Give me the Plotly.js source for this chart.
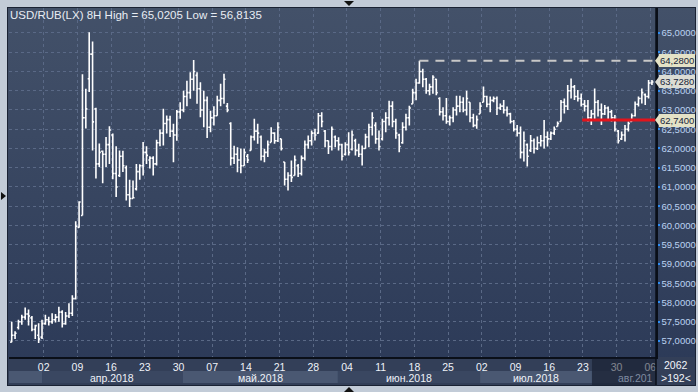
<!DOCTYPE html>
<html><head><meta charset="utf-8">
<script src="https://cdn.plot.ly/plotly-3.0.1.min.js"></script>
<style>
html,body{margin:0;padding:0;width:698px;height:392px;overflow:hidden;background:#c2cbd7;}
#frame{position:absolute;left:8px;top:8px;width:687px;height:377px;background:linear-gradient(#435169,#2b3957);box-shadow:0 0 0 1px #1a2233;}
#xarea{position:absolute;left:8px;top:357px;width:687px;height:28px;background:#333f58;}
#chart{position:absolute;left:0;top:0;width:698px;height:392px;}
.tri{position:absolute;width:0;height:0;}
</style></head>
<body>
<div id="frame"></div>
<div id="xarea"></div>
<div class="tri" style="left:344px;top:1px;border-left:5px solid transparent;border-right:5px solid transparent;border-top:5px solid #111;"></div>
<div class="tri" style="left:344px;top:387px;border-left:5px solid transparent;border-right:5px solid transparent;border-bottom:5px solid #111;"></div>
<div class="tri" style="left:1px;top:192px;border-top:4px solid transparent;border-bottom:4px solid transparent;border-left:5px solid #111;"></div>
<div id="chart"></div>
<script>
const chartTitle = 'USD/RUB(LX) 8H High = 65,0205 Low = 56,8135';

const open = [
56.97,57.15,57.35,57.50,57.62,57.70,57.60,57.30,57.15,57.10,
57.45,57.55,57.50,57.55,57.62,57.75,57.45,57.65,57.72,58.10,
59.95,60.26,62.80,63.81,64.45,63.03,61.60,61.93,61.85,62.10,
62.35,61.35,61.30,61.80,61.50,60.80,60.70,60.95,61.40,61.55,
61.90,61.70,61.75,61.60,62.15,62.40,62.65,62.75,62.45,62.35,
62.95,63.00,63.35,63.45,63.80,63.90,63.55,63.00,63.25,62.55,
62.80,62.85,63.25,63.30,63.10,62.65,61.75,61.85,61.70,61.55,
61.80,61.95,62.30,62.45,62.30,61.80,61.90,62.16,62.40,62.20,
62.25,61.65,61.20,61.30,61.30,61.55,61.35,61.75,62.10,62.20,
62.40,62.40,62.85,62.45,62.20,62.05,62.30,62.20,62.10,61.85,
62.10,61.98,62.20,61.95,61.85,62.00,62.30,62.55,62.60,62.25,
62.25,62.70,62.80,63.10,62.70,62.35,62.15,62.55,62.80,63.16,
63.45,63.70,64.00,63.80,63.50,63.60,63.80,63.30,62.95,62.85,
62.70,62.80,63.00,63.10,63.20,63.00,63.20,62.80,62.60,62.90,
63.20,63.35,63.15,63.25,63.30,63.05,63.10,63.00,62.90,62.70,
62.50,62.40,61.90,62.10,61.95,62.20,62.00,62.15,62.20,62.30,
62.25,62.40,62.57,62.70,63.20,63.10,63.50,63.60,63.35,63.30,
63.15,63.10,62.80,62.90,63.20,63.00,62.90,63.05,62.95,62.80,
62.45,62.25,62.35,62.50,62.70,62.85,63.15,63.30,63.40,63.35,63.70];

const high = [
57.50,57.25,57.55,57.68,57.87,57.82,57.65,57.42,57.46,57.55,
57.68,57.63,57.72,57.70,57.89,57.80,57.75,57.98,58.19,60.11,
60.63,63.93,63.55,65.02,64.78,63.06,62.13,61.95,62.30,62.58,
62.39,62.06,61.95,61.94,61.56,61.19,61.17,61.60,61.59,62.17,
62.06,61.80,61.80,62.23,62.49,63.03,62.86,62.85,62.64,63.00,
63.20,63.50,63.76,63.98,64.30,63.98,63.72,63.50,63.35,62.98,
63.10,63.37,63.68,63.94,63.18,62.68,62.07,62.03,62.00,61.99,
61.86,62.34,62.77,62.64,62.34,61.99,62.21,62.55,62.42,62.68,
62.25,61.65,61.38,61.69,61.82,61.60,61.82,62.21,62.34,62.47,
62.51,62.92,62.94,62.48,62.21,62.57,62.34,62.29,62.12,62.16,
62.42,62.47,62.25,62.12,62.08,62.38,62.64,62.94,62.68,62.47,
62.77,62.94,63.24,63.23,62.77,62.38,62.68,62.90,63.11,63.55,
63.81,64.28,64.07,63.83,63.68,63.90,63.81,63.33,63.07,63.31,
62.86,63.07,63.37,63.37,63.33,63.50,63.20,62.90,62.86,63.20,
63.61,63.37,63.35,63.35,63.35,63.17,63.26,63.09,62.93,62.74,
62.61,62.57,62.44,62.13,62.35,62.26,62.31,62.35,62.74,62.44,
62.44,62.57,62.70,63.26,63.30,63.65,63.82,63.65,63.52,63.43,
63.26,63.26,63.00,63.56,63.26,63.17,63.13,63.09,63.00,62.87,
62.48,62.44,62.61,62.70,62.91,63.22,63.35,63.56,63.43,63.78,63.78];

const low = [
56.97,57.05,57.30,57.42,57.55,57.40,57.25,57.05,56.95,57.05,
57.42,57.40,57.45,57.48,57.50,57.35,57.42,57.60,57.65,58.08,
59.94,60.26,62.52,63.47,61.95,61.22,61.52,61.10,61.52,61.60,
61.20,60.74,61.26,61.39,60.65,60.48,60.70,60.91,61.19,61.30,
61.60,61.48,61.30,61.56,62.06,62.08,62.39,62.30,61.64,62.20,
62.77,62.94,63.10,63.29,63.50,63.16,62.81,62.55,62.27,62.42,
62.60,62.85,63.10,63.16,62.94,61.56,61.60,61.38,61.36,61.55,
61.62,61.95,62.21,62.12,61.69,61.64,61.78,62.16,62.12,62.17,
61.95,61.04,60.91,61.13,61.30,61.26,61.30,61.69,61.99,62.08,
62.21,62.38,62.55,62.03,61.86,61.95,62.03,61.95,61.69,61.82,
61.82,61.95,61.82,61.78,61.56,61.99,62.03,62.34,62.12,61.95,
62.21,62.42,62.60,62.55,62.25,61.90,62.12,62.47,62.60,63.16,
63.25,63.68,63.59,63.42,63.38,63.42,63.38,62.86,62.73,62.64,
62.60,62.68,62.86,62.94,62.94,62.86,62.68,62.55,62.51,62.90,
63.20,63.07,62.94,63.20,62.87,63.00,62.91,62.83,62.65,62.44,
62.31,61.74,61.66,61.53,61.91,61.87,61.96,62.05,62.00,62.05,
62.22,62.35,62.57,62.70,62.91,63.00,63.30,63.26,63.22,63.09,
62.96,62.70,62.61,62.74,62.83,62.61,62.87,62.74,62.70,62.44,
62.13,62.22,62.18,62.44,62.70,62.83,63.09,63.17,63.13,63.30,63.65];

const close = [
57.15,57.20,57.50,57.62,57.70,57.65,57.30,57.40,57.05,57.45,
57.55,57.50,57.55,57.62,57.75,57.45,57.65,57.72,58.10,59.98,
60.61,62.80,63.03,64.45,62.69,61.60,61.90,61.85,62.10,62.48,
61.35,61.00,61.80,61.55,60.80,60.70,60.72,61.40,61.55,61.90,
61.82,61.75,61.60,62.15,62.40,62.65,62.75,62.45,62.35,62.95,
63.00,63.35,63.45,63.80,64.00,63.55,63.00,63.25,62.55,62.80,
62.85,63.25,63.30,63.80,63.00,61.75,61.85,61.70,61.55,61.90,
61.70,62.30,62.45,62.40,61.80,61.90,62.10,62.40,62.20,62.55,
62.00,61.20,61.30,61.25,61.70,61.35,61.75,62.10,62.20,62.40,
62.35,62.85,62.70,62.20,62.05,62.50,62.20,62.10,61.80,62.10,
61.90,62.35,61.95,61.85,62.00,62.30,62.55,62.80,62.25,62.05,
62.70,62.80,63.10,62.70,62.40,62.05,62.55,62.80,63.05,63.45,
63.70,64.00,63.80,63.50,63.60,63.85,63.45,62.95,62.85,62.70,
62.80,63.00,63.10,63.20,63.00,63.30,62.80,62.60,62.75,63.10,
63.35,63.15,63.25,63.30,63.05,63.10,63.00,62.90,62.70,62.50,
62.40,61.90,62.20,61.80,62.20,62.00,62.15,62.20,62.30,62.25,
62.40,62.50,62.65,63.20,63.10,63.50,63.60,63.35,63.30,63.15,
63.10,62.80,62.90,63.20,63.00,62.90,63.05,62.95,62.80,62.50,
62.20,62.35,62.50,62.65,62.85,63.15,63.30,63.45,63.35,63.70,63.728];

const dayLabels = ['02','09','16','23','30','07','14','21','28','04','11','18','25','02','09','16','23','30','06'];
const weekStartBar = [9.5,19.5,29.5,39.5,49.5,59.5,69.5,79.5,89.5,99.5,109.5,119.5,129.5,139.5,149.5,159.5,169.5,179.5,189.5];
const monthLabels = ['апр.2018','май.2018','июн.2018','июл.2018'];
const monthStartBar = [9, 50.8, 96.8, 139, 172.2];
const firstMonthStart = -0.8;
const partialMonthLabel = 'авг.201';
const resistanceLevel = 64.28, resistanceFromBar = 121;
const supportLevel = 62.74, supportFromBar = 169.3;
const lastPrice = 63.728;
const totalBars = '2062', shownBars = '>192<';
const yTickValues = [57,57.5,58,58.5,59,59.5,60,60.5,61,61.5,62,62.5,63,63.5,64,64.5,65];

const fmt = v => v.toFixed(4).replace('.', ',');
const idx = open.map((_, i) => i);
const X0 = -0.8, X1 = 191.2, Y0 = 56.584, Y1 = 65.649;
const PH = 349;
const py = y => (357 - y) / PH;
const px = x => (x - 9) / 647;
const FONT = 'Liberation Sans, Arial, sans-serif';
const FS = 10.5, FY = 9.5;

const shapes = [];
const bandY0 = py(383), bandY1 = py(371);
const bounds = [firstMonthStart].concat(monthStartBar);
for (let k = 0; k < bounds.length - 1; k++) {
  shapes.push({type:'rect', xref:'x', yref:'paper', x0:bounds[k], x1:bounds[k+1], y0:bandY0, y1:bandY1,
    fillcolor: (k % 2 === 0) ? '#4a5872' : '#3a4761', line:{width:0}, layer:'below'});
}
shapes.push({type:'rect', xref:'x', yref:'paper', x0:monthStartBar[monthStartBar.length-1], x1:X1, y0:bandY0, y1:bandY1,
  fillcolor:'#3a4761', line:{width:0}, layer:'below'});
shapes.push({type:'rect', xref:'x', yref:'paper', x0:monthStartBar[monthStartBar.length-1], x1:X1, y0:py(385), y1:py(357.5),
  fillcolor:'rgba(16,22,36,0.5)', line:{width:0}, layer:'above'});
shapes.push({type:'line', xref:'x', yref:'y', x0:resistanceFromBar, x1:X1, y0:resistanceLevel, y1:resistanceLevel,
  line:{color:'#c8c8c8', width:2, dash:'9px,7px'}});
shapes.push({type:'line', xref:'x', yref:'y', x0:supportFromBar, x1:X1, y0:supportLevel, y1:supportLevel,
  line:{color:'#e3141c', width:3}});
shapes.push({type:'line', xref:'paper', yref:'paper', x0:1, x1:1, y0:py(385), y1:py(8), line:{color:'#0a0f18', width:1.5}});

const annotations = [];
for (let k = 0; k < monthLabels.length; k++) {
  annotations.push({xref:'x', yref:'paper', x:(monthStartBar[k] + monthStartBar[k+1]) / 2, y:py(377.5),
    text:monthLabels[k], showarrow:false, xanchor:'center', yanchor:'middle', font:{family:FONT, size:FS, color:'#eef2f8'}});
}
annotations.push({xref:'paper', yref:'paper', x:px(655), y:py(377.5), text:partialMonthLabel, showarrow:false,
  xanchor:'right', yanchor:'middle', font:{family:FONT, size:FS, color:'#7f8aa0'}});
annotations.push({xref:'paper', yref:'paper', x:px(676), y:py(365), text:totalBars, showarrow:false,
  xanchor:'center', yanchor:'middle', font:{family:FONT, size:FS, color:'#f2f5fa'}});
annotations.push({xref:'paper', yref:'paper', x:px(676), y:py(378), text:shownBars, showarrow:false,
  xanchor:'center', yanchor:'middle', font:{family:FONT, size:FS, color:'#f2f5fa'}});
const badgeD = 6 / 38.5;
const badge = (v, bg) => {
  shapes.push({type:'path', xref:'paper', yref:'y', fillcolor:bg, line:{width:0},
    path:'M ' + px(655) + ' ' + v + ' L ' + px(659.5) + ' ' + (v + badgeD) + ' L ' + px(659.5) + ' ' + (v - badgeD) + ' Z'});
  return {xref:'paper', yref:'y', x:px(659), y:v, text:fmt(v), showarrow:false,
    xanchor:'left', yanchor:'middle', bgcolor:bg, bordercolor:bg, borderpad:0,
    font:{family:FONT, size:FY, color:'#17243a'}};
};
annotations.push(badge(resistanceLevel, '#e4e2c6'));
annotations.push(badge(lastPrice, '#dcdcd4'));
annotations.push(badge(supportLevel, '#e4e2c6'));

const trace = {type:'ohlc', x:idx, open:open, high:high, low:low, close:close,
  increasing:{line:{color:'#ffffff', width:1.6}}, decreasing:{line:{color:'#ffffff', width:1.6}},
  tickwidth:0.45, hoverinfo:'skip', showlegend:false};

const layout = {
  width:698, height:392, margin:{l:9, r:42, t:8, b:35, pad:0},
  paper_bgcolor:'rgba(0,0,0,0)', plot_bgcolor:'rgba(0,0,0,0)', showlegend:false,
  font:{family:FONT, size:FS, color:'#e6ebf2'},
  title:{text:chartTitle, xref:'container', yref:'container', x:10/698, xanchor:'left', y:1 - 15/392, yanchor:'middle',
    font:{family:FONT, size:11.5, color:'#e8ecf3'}},
  xaxis:{range:[X0, X1], rangeslider:{visible:false}, tickmode:'array', tickvals:weekStartBar, ticktext:dayLabels,
    ticks:'', showgrid:true, gridcolor:'#5a6986', gridwidth:1, griddash:'3px,3px', zeroline:false,
    showline:true, linecolor:'#0a0f18', linewidth:1.5, tickfont:{family:FONT, size:FS, color:'#eef2f8'}, fixedrange:true},
  yaxis:{side:'right', range:[Y0, Y1], tickmode:'array', tickvals:yTickValues, ticktext:yTickValues.map(fmt),
    ticks:'outside', ticklen:2, tickwidth:2, tickcolor:'#2e8ef5', showgrid:true, gridcolor:'#5a6986', gridwidth:1,
    griddash:'3px,3px', zeroline:false, showline:true, linecolor:'#0a0f18', linewidth:1.5,
    tickfont:{family:FONT, size:FY, color:'#bcd2f2'}, fixedrange:true},
  shapes:shapes, annotations:annotations
};
Plotly.newPlot('chart', [trace], layout, {staticPlot:true, displayModeBar:false});
</script>
</body></html>
